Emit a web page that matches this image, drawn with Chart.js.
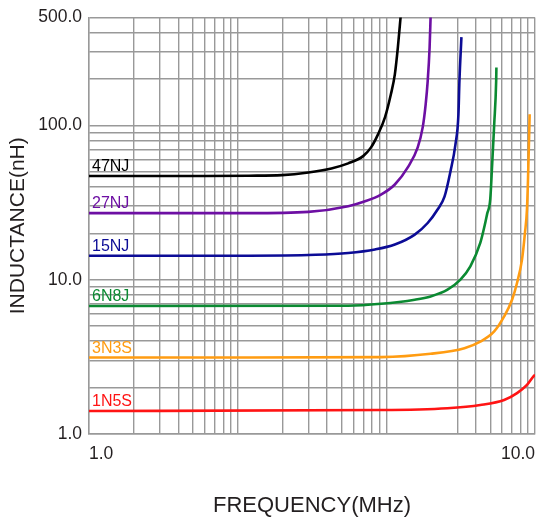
<!DOCTYPE html>
<html>
<head>
<meta charset="utf-8">
<script src="https://cdn.jsdelivr.net/npm/chart.js@4.4.1/dist/chart.umd.min.js"></script>
<style>
  html, body { margin: 0; padding: 0; background: #fff; }
  #chart { display: block; }
</style>
</head>
<body>
<canvas id="chart" width="545" height="521"></canvas>
<script>
// series names and colours
const seriesNames = ['47NJ', '27NJ', '15NJ', '6N8J', '3N3S', '1N5S'];
const seriesColors = ['#000000', '#6d0fa3', '#0c0c96', '#0b8a32', '#ff9c12', '#ff1414'];

// curve points (x in axis units, y in nH)
const freq47 = [1, 6, 11.9, 19.8, 29.9, 42.7, 55.4, 69.8, 78.9, 87.9, 97.9, 107.3, 114.1, 119.6, 125.2];
const ind47  = [47, 47, 47.2, 47.6, 49.5, 52.6, 56.7, 63.2, 72, 87.4, 112.7, 159, 214, 321, 526];

const freq27 = [1, 11.9, 29.9, 55.4, 71.9, 92, 114.1, 139.4, 162.6, 175.6, 183.9, 189.7, 195.5, 198.6];
const ind27  = [27, 27, 27.5, 29.9, 32.2, 35.6, 41.4, 53.4, 72, 97, 137, 193, 321, 513];

const freq15 = [1, 11.9, 33.4, 55.4, 83.9, 114.1, 155.3, 189.7, 221.2, 246.2, 270.2, 291.7, 305.5, 310.2, 320];
const ind15  = [14.3, 14.3, 14.5, 14.9, 15.7, 16.9, 19.6, 23.3, 28.5, 34.5, 50.5, 75.3, 118, 194, 373];

const freq6n8 = [1, 55.4, 92, 155.3, 198.6, 258, 315, 367.4, 428.5, 462.6, 477, 499.9, 515, 531.6, 548, 550];
const ind6n8  = [6.75, 6.78, 6.98, 7.42, 7.79, 8.61, 10, 12.2, 17.3, 23.3, 26.8, 33.1, 55.8, 101.5, 194, 237];

const freq3n3 = [1, 11.9, 92, 198.6, 335, 428.5, 531.6, 620, 701, 757, 817.6, 856, 883, 896.7, 920.5];
const ind3n3  = [3.13, 3.13, 3.15, 3.31, 3.6, 3.97, 4.62, 5.78, 7.42, 9.52, 13.5, 20.1, 28.5, 43.5, 117.9];

const freq1n5 = [1, 92, 258, 428.5, 620, 757, 883, 983, 1000];
const ind1n5  = [1.41, 1.43, 1.47, 1.54, 1.66, 1.84, 2.08, 2.38, 2.42];

// grid lines and tick labels
const xGrid = [1, 2, 3, 4, 5, 6, 7, 8, 9, 10, 20, 30, 40, 50, 60, 70, 80, 90, 100, 300, 400, 500, 600, 700, 800, 900, 1000];
const yGrid = [1, 2, 3, 4, 5, 6, 7, 8, 9, 10, 20, 30, 40, 50, 60, 70, 80, 90, 100, 200, 300, 400, 500];
const xTickValues = [1, 1000];
const xTickText = ['1.0', '10.0'];
const yTickValues = [1, 10, 100, 500];
const yTickText = ['1.0', '10.0', '100.0', '500.0'];

const freqs = [freq47, freq27, freq15, freq6n8, freq3n3, freq1n5];
const inds = [ind47, ind27, ind15, ind6n8, ind3n3, ind1n5];

const FONT = '"Liberation Sans", Arial, Helvetica, sans-serif';
const TEXT = '#231f20';
const GRID = '#999999';

// draws each series name just above the start of its curve
const seriesLabels = {
    id: 'seriesLabels',
    afterDatasetsDraw(chart) {
        const { ctx, scales: { x, y } } = chart;
        ctx.save();
        ctx.font = '16px ' + FONT;
        ctx.textBaseline = 'alphabetic';
        ctx.textAlign = 'left';
        chart.data.datasets.forEach((ds) => {
            const p = ds.data[0];
            ctx.fillStyle = ds.borderColor;
            ctx.fillText(ds.label, x.getPixelForValue(p.x) + 3, y.getPixelForValue(p.y) - 5);
        });
        ctx.restore();
    }
};

new Chart(document.getElementById('chart').getContext('2d'), {
    type: 'line',
    data: {
        datasets: seriesNames.map((name, i) => ({
            label: name,
            data: freqs[i].map((f, j) => ({ x: f, y: inds[i][j] })),
            borderColor: seriesColors[i],
            backgroundColor: seriesColors[i],
            fill: false
        }))
    },
    options: {
        responsive: false,
        animation: false,
        layout: { padding: { top: 16, right: 7, left: 0, bottom: 0 } },
        plugins: { legend: { display: false }, tooltip: { enabled: false } },
        elements: {
            point: { radius: 0 },
            line: { borderWidth: 2.6, cubicInterpolationMode: 'monotone' }
        },
        scales: {
            x: {
                type: 'logarithmic',
                min: 1,
                max: 1000,
                afterBuildTicks: (s) => { s.ticks = xGrid.map(v => ({ value: v })); },
                afterFit: (s) => { s.height = 87; },
                grid: { color: GRID, lineWidth: 1.4, drawTicks: false },
                border: { color: GRID, width: 1.4 },
                ticks: {
                    autoSkip: false,
                    maxRotation: 0,
                    align: 'inner',
                    padding: 10,
                    color: TEXT,
                    font: { family: FONT, size: 17.5 },
                    callback: (v) => {
                        const i = xTickValues.indexOf(v);
                        return i >= 0 ? xTickText[i] : '';
                    }
                },
                title: {
                    display: true,
                    text: 'FREQUENCY(MHz)',
                    color: TEXT,
                    font: { family: FONT, size: 22 },
                    padding: { top: 0, bottom: 2 }
                }
            },
            y: {
                type: 'logarithmic',
                min: 1,
                max: 500,
                afterBuildTicks: (s) => { s.ticks = yGrid.map(v => ({ value: v })); },
                afterFit: (s) => { s.width = 89; },
                grid: { color: GRID, lineWidth: 1.4, drawTicks: false },
                border: { color: GRID, width: 1.4 },
                ticks: {
                    autoSkip: false,
                    padding: 7,
                    color: TEXT,
                    font: { family: FONT, size: 17.5 },
                    callback: (v) => {
                        const i = yTickValues.indexOf(v);
                        return i >= 0 ? yTickText[i] : '';
                    }
                },
                title: {
                    display: true,
                    text: 'INDUCTANCE(nH)',
                    color: TEXT,
                    font: { family: FONT, size: 21 },
                    padding: { top: 6, bottom: 0 }
                }
            }
        }
    },
    plugins: [seriesLabels]
});
</script>
</body>
</html>
